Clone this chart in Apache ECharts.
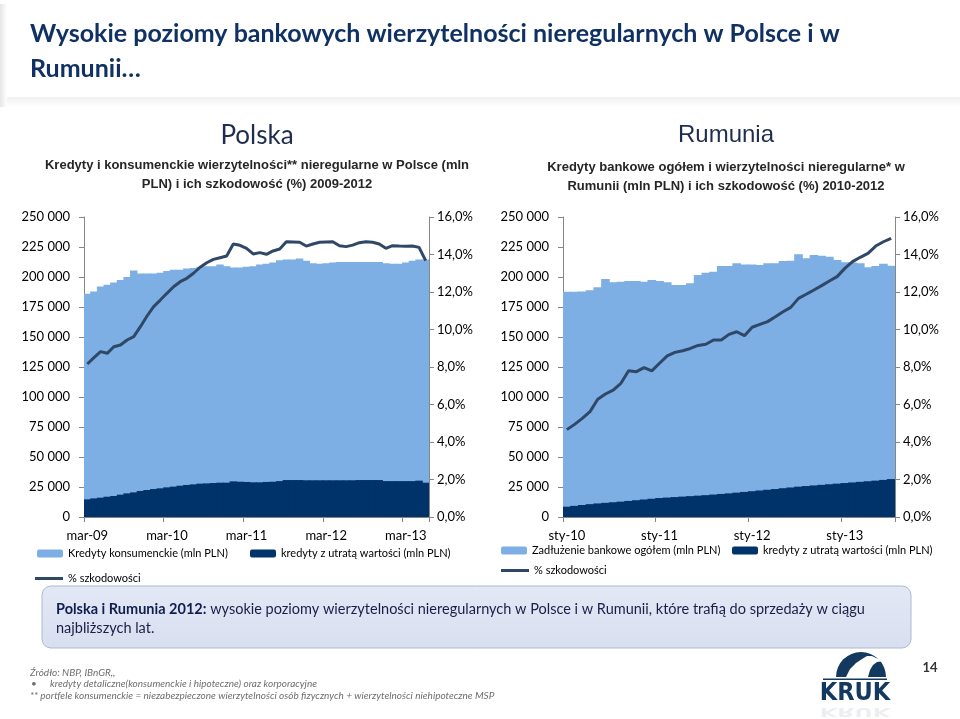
<!DOCTYPE html>
<html>
<head>
<meta charset="utf-8">
<script src="https://cdn.jsdelivr.net/npm/echarts@6/dist/echarts.min.js"></script>
<style>
html,body{margin:0;padding:0;background:#fff;}
#chart{width:960px;height:719px;}
</style>
</head>
<body>
<div id="chart"></div>
<script>
// ---------- DATA ----------
const plMonths = ['mar-09','kwi-09','maj-09','cze-09','lip-09','sie-09','wrz-09','paź-09','lis-09','gru-09','sty-10','lut-10',
  'mar-10','kwi-10','maj-10','cze-10','lip-10','sie-10','wrz-10','paź-10','lis-10','gru-10','sty-11','lut-11',
  'mar-11','kwi-11','maj-11','cze-11','lip-11','sie-11','wrz-11','paź-11','lis-11','gru-11','sty-12','lut-12',
  'mar-12','kwi-12','maj-12','cze-12','lip-12','sie-12','wrz-12','paź-12','lis-12','gru-12','sty-13','lut-13',
  'mar-13','kwi-13','maj-13','cze-13'];
const plConsumer = [186000,188000,192000,193500,195500,197500,200000,205500,203000,203000,203000,203500,
  205000,206000,206000,207000,207500,208500,209000,209000,210500,209000,208000,208000,
  208500,209000,210500,211000,212000,214000,214500,214500,215500,213500,211500,211000,
  211500,212000,212500,212500,212500,212500,212500,212500,212500,211500,211000,211000,
  212000,213500,214500,214500];
const plImpaired = [14700,15500,16100,16900,17500,18600,19700,20500,21700,22500,23300,23900,
  24700,25300,26100,26700,27200,27800,28000,28300,28600,28600,29700,29400,
  29200,28900,28900,29200,29400,29900,30800,30800,30800,30600,30600,30600,
  30600,30600,30600,30600,30600,30800,30800,30800,30800,29900,29900,29900,
  29900,29900,30300,28600];
const plRate = [8.16,8.50,8.82,8.73,9.08,9.17,9.44,9.62,10.15,10.72,11.22,11.57,
  11.93,12.28,12.55,12.73,13.00,13.32,13.56,13.74,13.83,13.92,14.56,14.49,
  14.33,14.03,14.10,14.01,14.19,14.29,14.68,14.67,14.65,14.45,14.56,14.65,
  14.67,14.68,14.47,14.42,14.50,14.63,14.68,14.65,14.56,14.33,14.47,14.45,
  14.44,14.45,14.38,13.67];

const roMonths = ['sty-10','lut-10','mar-10','kwi-10','maj-10','cze-10','lip-10','sie-10','wrz-10','paź-10','lis-10','gru-10',
  'sty-11','lut-11','mar-11','kwi-11','maj-11','cze-11','lip-11','sie-11','wrz-11','paź-11','lis-11','gru-11',
  'sty-12','lut-12','mar-12','kwi-12','maj-12','cze-12','lip-12','sie-12','wrz-12','paź-12','lis-12','gru-12',
  'sty-13','lut-13','mar-13','kwi-13','maj-13','cze-13','lip-13'];
const roTotal = [187800,187800,188000,189000,191500,198300,195600,196100,196700,196700,196100,197500,
  196700,195600,193300,193300,194700,201700,203600,204400,209200,209200,211400,210500,
  210500,210000,211400,211400,213300,213600,218900,215600,218300,217800,216900,214200,
  212200,212000,211400,208100,209200,211000,209400];
const roImpaired = [8600,9300,10000,10700,11300,11800,12300,12800,13400,14000,14600,15200,
  15800,16200,16600,17000,17400,17800,18200,18700,19200,19700,20300,20900,
  21500,22100,22700,23300,24000,24600,25300,25800,26300,26800,27300,27800,
  28300,28800,29300,29800,30300,30900,31600];
const roRate = [4.66,4.94,5.26,5.62,6.28,6.56,6.77,7.13,7.80,7.75,7.97,7.79,
  8.20,8.59,8.78,8.87,8.99,9.15,9.21,9.44,9.44,9.74,9.88,9.67,
  10.12,10.27,10.42,10.68,10.95,11.18,11.66,11.88,12.11,12.34,12.59,12.82,
  13.26,13.62,13.85,14.06,14.45,14.68,14.86];

// ---------- STYLE ----------
const LIGHT = '#7DAFE4';
const DARK = '#00336A';
const LINE = '#2F4868';
const AXIS = '#868686';
const FONT = 'Lato';

const fmtNum = v => v === 0 ? '0' : String(v).replace(/\B(?=(\d{3})+(?!\d))/g, ' ');
const fmtPct = v => v.toFixed(1).replace('.', ',') + '%';

function xAxis(gridIndex, data) {
  return {
    type: 'category', gridIndex, data, boundaryGap: true,
    axisLine: {show: true, lineStyle: {color: AXIS, width: 1}},
    axisTick: {show: true, interval: 11, length: 5, lineStyle: {color: AXIS}},
    axisLabel: {interval: 11, color: '#000', fontFamily: FONT, fontSize: 13, margin: 12}
  };
}
function yLeft(gridIndex) {
  return {
    type: 'value', gridIndex, min: 0, max: 250000, interval: 25000, position: 'left',
    axisLine: {show: true, lineStyle: {color: AXIS}},
    axisTick: {show: true, length: 5, lineStyle: {color: AXIS}},
    splitLine: {show: false},
    axisLabel: {formatter: fmtNum, color: '#000', fontFamily: FONT, fontSize: 13, margin: 14}
  };
}
function yRight(gridIndex) {
  return {
    type: 'value', gridIndex, min: 0, max: 16, interval: 2, position: 'right',
    axisLine: {show: true, lineStyle: {color: AXIS}},
    axisTick: {show: true, length: 5, lineStyle: {color: AXIS}},
    splitLine: {show: false},
    axisLabel: {formatter: fmtPct, color: '#000', fontFamily: FONT, fontSize: 13, margin: 8}
  };
}
function legend(name, left, top, isLine) {
  return {
    data: [isLine ? {name, icon: 'rect'} : name], left, top,
    itemWidth: isLine ? 28 : 26, itemHeight: isLine ? 3 : 8, itemGap: 0,
    selectedMode: false,
    textStyle: {fontFamily: FONT, fontSize: 11, color: '#000'}
  };
}
function txt(text, x, y, o) {
  return Object.assign({type: 'text', x, y, silent: true,
    style: Object.assign({text, fontFamily: FONT, fontSize: 13, fill: '#000', align: 'left', verticalAlign: 'middle'}, o || {})});
}
// bars slightly wider than a category so neighbours overlap and leave no anti-aliasing seams
function bar(name, xi, yi, data, color, z) {
  return {name, type: 'bar', xAxisIndex: xi, yAxisIndex: yi, data,
    barWidth: '112%', barGap: '-100%', itemStyle: {color}, z};
}

const chart = echarts.init(document.getElementById('chart'), null, {renderer: 'canvas'});

const option = {
  backgroundColor: '#fff',
  animation: false,
  grid: [
    {left: 84, top: 217, width: 345, height: 300},
    {left: 563, top: 217, width: 332, height: 300}
  ],
  xAxis: [xAxis(0, plMonths), xAxis(1, roMonths)],
  yAxis: [yLeft(0), yRight(0), yLeft(1), yRight(1)],
  legend: [
    legend('Kredyty konsumenckie (mln PLN)', 32, 543),
    legend('kredyty z utratą wartości (mln PLN)', 245, 543),
    legend('% szkodowości', 30, 568, true),
    legend('Zadłużenie bankowe ogółem (mln PLN)', 496, 540),
    legend('kredyty z utratą wartości (mln PLN)', 727, 540),
    legend('% szkodowości', 496, 560, true)
  ],
  series: [
    bar('Kredyty konsumenckie (mln PLN)', 0, 0, plConsumer, LIGHT, 1),
    bar('kredyty z utratą wartości (mln PLN)', 0, 0, plImpaired, DARK, 2),
    {name: '% szkodowości', type: 'line', xAxisIndex: 0, yAxisIndex: 1, data: plRate,
      symbol: 'none', lineStyle: {width: 3, color: LINE}, itemStyle: {color: LINE}, z: 3},
    bar('Zadłużenie bankowe ogółem (mln PLN)', 1, 2, roTotal, LIGHT, 1),
    bar('kredyty z utratą wartości (mln PLN)', 1, 2, roImpaired, DARK, 2),
    {name: '% szkodowości', type: 'line', xAxisIndex: 1, yAxisIndex: 3, data: roRate,
      symbol: 'none', lineStyle: {width: 3, color: LINE}, itemStyle: {color: LINE}, z: 3}
  ],
  graphic: [
    // header shading
    {type: 'rect', silent: true, shape: {x: 0, y: 97, width: 960, height: 10},
      style: {fill: new echarts.graphic.LinearGradient(0, 0, 0, 1, [{offset: 0, color: '#f0f0f0'}, {offset: 1, color: '#ffffff'}])}},
    {type: 'rect', silent: true, shape: {x: 0, y: 4, width: 7, height: 103},
      style: {fill: new echarts.graphic.LinearGradient(0, 0, 1, 0, [{offset: 0, color: '#e6e6e6'}, {offset: 1, color: '#ffffff'}])}},
    txt('Wysokie poziomy bankowych wierzytelności nieregularnych w Polsce i w', 30, 34,
      {fontSize: 25, fontWeight: 'bold', fill: '#0F3163'}),
    txt('Rumunii…', 30, 69, {fontSize: 25, fontWeight: 'bold', fill: '#0F3163'}),
    // panel titles
    txt('Polska', 257, 136, {fontSize: 26, fill: '#1F2D4E', align: 'center'}),
    txt('Kredyty i konsumenckie wierzytelności** nieregularne w Polsce (mln', 257, 165,
      {fontFamily: 'Liberation Sans', fontSize: 13, fontWeight: 'bold', fill: '#262626', align: 'center'}),
    txt('PLN) i ich szkodowość (%) 2009-2012', 257, 184,
      {fontFamily: 'Liberation Sans', fontSize: 13, fontWeight: 'bold', fill: '#262626', align: 'center'}),
    txt('Rumunia', 726, 135, {fontFamily: 'Liberation Sans', fontSize: 24, fill: '#1F2D4E', align: 'center'}),
    txt('Kredyty bankowe ogółem i wierzytelności nieregularne* w', 726, 167,
      {fontFamily: 'Liberation Sans', fontSize: 13, fontWeight: 'bold', fill: '#262626', align: 'center'}),
    txt('Rumunii (mln PLN) i ich szkodowość (%) 2010-2012', 726, 186,
      {fontFamily: 'Liberation Sans', fontSize: 13, fontWeight: 'bold', fill: '#262626', align: 'center'}),
    // summary box
    {type: 'rect', silent: true, shape: {x: 42, y: 586, width: 869, height: 62, r: 9},
      style: {fill: new echarts.graphic.LinearGradient(0, 0, 0, 1, [{offset: 0, color: '#E3E8F5'}, {offset: 1, color: '#D8DFF0'}]),
        stroke: '#AEB8D3', lineWidth: 1}},
    {type: 'text', x: 56, y: 609, silent: true,
      style: {text: '{b|Polska i Rumunia 2012:} wysokie poziomy wierzytelności nieregularnych w Polsce i w Rumunii, które trafią do sprzedaży w ciągu',
        fontFamily: FONT, fontSize: 14.5, fill: '#1B1E46', verticalAlign: 'middle',
        rich: {b: {fontFamily: FONT, fontSize: 14.5, fontWeight: 'bold', fill: '#0F1E4E'}}}},
    txt('najbliższych lat.', 56, 628, {fontSize: 14.5, fill: '#1B1E46'}),
    // footer
    txt('Źródło: NBP, IBnGR,,', 30, 673, {fontSize: 10, fontStyle: 'italic', fill: '#6E6E6E'}),
    txt('•', 31, 684, {fontSize: 10, fill: '#6E6E6E'}),
    txt('kredyty detaliczne(konsumenckie i hipoteczne) oraz korporacyjne', 50, 684, {fontSize: 10, fontStyle: 'italic', fill: '#6E6E6E'}),
    txt('** portfele konsumenckie = niezabezpieczone wierzytelności osób fizycznych + wierzytelności niehipoteczne MSP', 30, 696,
      {fontSize: 10, fontStyle: 'italic', fill: '#6E6E6E'}),
    txt('14', 930, 668, {fontSize: 13, fontWeight: 'bold', fill: '#333', align: 'center'}),
    // KRUK logo
    {type: 'sector', silent: true, shape: {cx: 861, cy: 677, r0: 0, r: 25, startAngle: Math.PI, endAngle: 2 * Math.PI},
      style: {fill: '#13395F'}},
    {type: 'polygon', silent: true,
      shape: {points: [[846, 677], [850, 669], [856, 663], [862, 659], [867, 656], [872, 656], [876, 658], [885, 661], [877, 662], [873, 665], [870, 670], [868, 677]]},
      style: {fill: '#ffffff'}},
    {type: 'rect', silent: true, shape: {x: 823, y: 678.5, width: 64, height: 1.5}, style: {fill: '#13395F'}},
    txt('KRUK', 855, 693, {fontFamily: 'DejaVu Sans Condensed', fontSize: 25, fontWeight: 'bold', fill: '#13395F', align: 'center'}),
    {type: 'text', silent: true, x: 855, y: 711, scaleY: -0.5, originY: 0,
      style: {text: 'KRUK', fontFamily: 'DejaVu Sans Condensed', fontSize: 25, fontWeight: 'bold', fill: 'rgba(19,57,95,0.08)', align: 'center', verticalAlign: 'middle'}}
  ]
};
chart.setOption(option);
</script>
</body>
</html>
